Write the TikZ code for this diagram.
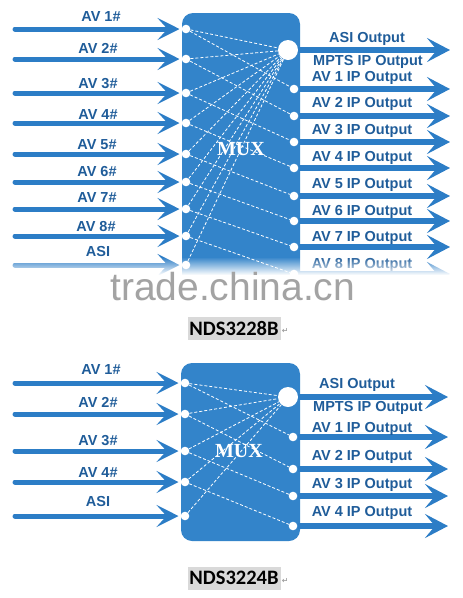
\documentclass[tikz,border=0pt]{standalone}
\usepackage{fontspec}
\usetikzlibrary{positioning, arrows.meta, fadings}
\newfontfamily\labelfont{Liberation Sans}
\newfontfamily\muxfont{Liberation Serif}
\newfontfamily\capfont{Carlito}
\newfontfamily\markfont{DejaVu Sans}
\definecolor{muxblue}{HTML}{3384CA}
\definecolor{arrowblue}{HTML}{2C7DC6}
\definecolor{labelblue}{HTML}{1F5C99}
\definecolor{markgray}{HTML}{A3A3A3}
\tikzfading[name=fade_down, top color=transparent!100, bottom color=transparent!0]

\begin{document}
\begin{tikzpicture}
    [
        x=1pt, y=-1pt,
        mux_box/.style={rectangle, rounded corners=11pt, fill=muxblue, inner sep=0pt},
        in_dot/.style={circle, fill=white, inner sep=0pt, minimum size=8.6pt},
        big_dot/.style={circle, fill=white, inner sep=0pt, minimum size=20pt},
        in_arrow/.style={-{Stealth[length=22pt 0, width=22pt 0, inset=10pt 0]}, line width=5pt, color=arrowblue, line cap=round, shorten >=2pt},
        out_arrow/.style={-{Stealth[length=23pt 0, width=24pt 0, inset=10pt 0]}, line width=6pt, color=arrowblue},
        link_line/.style={white, line width=0.8pt, dash pattern=on 3pt off 2pt},
        io_label/.style={font=\labelfont\bfseries\fontsize{14.5}{16}\selectfont, text=labelblue, inner sep=0pt},
        mux_text/.style={font=\muxfont\bfseries\fontsize{20}{22}\selectfont, text=white, inner sep=0pt},
        cap_box/.style={fill=black!15, font=\capfont\bfseries\fontsize{20.5}{22}\selectfont, minimum width=93pt, minimum height=23pt, inner sep=0pt},
        ret_mark/.style={font=\markfont\fontsize{8}{9}\selectfont, text=black!45, inner sep=0pt},
        mark_text/.style={font=\labelfont\fontsize{39}{42}\selectfont, text=markgray, inner sep=0pt},
    ]
        \useasboundingbox (0,0) rectangle (463,598);

        % NDS3228B
        \node[mux_box, minimum width=118pt, minimum height=272pt] (box1) at (241,149) {};
        \node[mux_text] (mux1) at (241,149) {MUX};

        \node[in_dot] (ti1) at (186,29) {};
        \node[in_dot] (ti2) at (186,59) {};
        \node[in_dot] (ti3) at (186,93) {};
        \node[in_dot] (ti4) at (186,123) {};
        \node[in_dot] (ti5) at (186,154) {};
        \node[in_dot] (ti6) at (186,182) {};
        \node[in_dot] (ti7) at (186,209) {};
        \node[in_dot] (ti8) at (186,236) {};
        \node[in_dot] (ti9) at (186,265) {};
        \node[big_dot] (to0) at (288,50) {};
        \node[in_dot] (to1) at (294,89) {};
        \node[in_dot] (to2) at (294,116) {};
        \node[in_dot] (to3) at (294,142) {};
        \node[in_dot] (to4) at (294,168) {};
        \node[in_dot] (to5) at (294,196) {};
        \node[in_dot] (to6) at (294,221) {};
        \node[in_dot] (to7) at (294,247) {};
        \node[in_dot] (to8) at (294,274) {};

        \draw[link_line] (ti1) -- (to0) ;
        \draw[link_line] (ti2) -- (to0) ;
        \draw[link_line] (ti3) -- (to0) ;
        \draw[link_line] (ti4) -- (to0) ;
        \draw[link_line] (ti5) -- (to0) ;
        \draw[link_line] (ti6) -- (to0) ;
        \draw[link_line] (ti7) -- (to0) ;
        \draw[link_line] (ti8) -- (to0) ;
        \draw[link_line] (ti9) -- (to0) ;
        \draw[link_line] (ti1) -- (to1) ;
        \draw[link_line] (ti2) -- (to2) ;
        \draw[link_line] (ti3) -- (to3) ;
        \draw[link_line] (ti4) -- (to4) ;
        \draw[link_line] (ti5) -- (to5) ;
        \draw[link_line] (ti6) -- (to6) ;
        \draw[link_line] (ti7) -- (to7) ;
        \draw[link_line] (ti8) -- (to8) ;

        \coordinate (ts1) at (15,29);
        \coordinate (ts2) at (15,59);
        \coordinate (ts3) at (15,93);
        \coordinate (ts4) at (15,123);
        \coordinate (ts5) at (15,154);
        \coordinate (ts6) at (15,182);
        \coordinate (ts7) at (15,209);
        \coordinate (ts8) at (15,236);
        \coordinate (ts9) at (15,265);
        \coordinate (te0) at (450,50);
        \coordinate (te1) at (450,89);
        \coordinate (te2) at (450,116);
        \coordinate (te3) at (450,142);
        \coordinate (te4) at (450,168);
        \coordinate (te5) at (450,196);
        \coordinate (te6) at (450,221);
        \coordinate (te7) at (450,247);
        \coordinate (te8) at (450,274);

        \draw[in_arrow] (ts1) -- (ti1) ;
        \draw[in_arrow] (ts2) -- (ti2) ;
        \draw[in_arrow] (ts3) -- (ti3) ;
        \draw[in_arrow] (ts4) -- (ti4) ;
        \draw[in_arrow] (ts5) -- (ti5) ;
        \draw[in_arrow] (ts6) -- (ti6) ;
        \draw[in_arrow] (ts7) -- (ti7) ;
        \draw[in_arrow] (ts8) -- (ti8) ;
        \draw[in_arrow] (ts9) -- (ti9) ;
        \draw[out_arrow] (to0) -- (te0) ;
        \draw[out_arrow] (to1) -- (te1) ;
        \draw[out_arrow] (to2) -- (te2) ;
        \draw[out_arrow] (to3) -- (te3) ;
        \draw[out_arrow] (to4) -- (te4) ;
        \draw[out_arrow] (to5) -- (te5) ;
        \draw[out_arrow] (to6) -- (te6) ;
        \draw[out_arrow] (to7) -- (te7) ;
        \draw[out_arrow] (to8) -- (te8) ;

        \node[io_label] (tl1) at (101,17) {AV 1\#};
        \node[io_label] (tl2) at (98,48) {AV 2\#};
        \node[io_label] (tl3) at (98,84) {AV 3\#};
        \node[io_label] (tl4) at (98,115) {AV 4\#};
        \node[io_label] (tl5) at (97,145) {AV 5\#};
        \node[io_label] (tl6) at (97,172) {AV 6\#};
        \node[io_label] (tl7) at (97,198) {AV 7\#};
        \node[io_label] (tl8) at (96,227) {AV 8\#};
        \node[io_label] (tl9) at (98,252) {ASI};
        \node[io_label] (tr0) at (367,39) {ASI Output};
        \node[io_label] (trm) at (368,62) {MPTS IP Output};
        \node[io_label] (tr1) at (362,78) {AV 1 IP Output};
        \node[io_label] (tr2) at (362,104) {AV 2 IP Output};
        \node[io_label] (tr3) at (362,131) {AV 3 IP Output};
        \node[io_label] (tr4) at (362,158) {AV 4 IP Output};
        \node[io_label] (tr5) at (362,185) {AV 5 IP Output};
        \node[io_label] (tr6) at (362,212) {AV 6 IP Output};
        \node[io_label] (tr7) at (362,238) {AV 7 IP Output};
        \node[io_label] (tr8) at (362,265) {AV 8 IP Output};

        \fill[white, path fading=fade_down] (0,257) rectangle (463,275);
        \fill[white] (0,275) rectangle (463,312);
        \node[mark_text, anchor=base west] (wm) at (110,300) {trade.china.cn};

        \node[cap_box] (cap1) at (234,328) {NDS3228B};
        \node[ret_mark, right=1pt of cap1, yshift=-3pt] (ret1) {↵};

        % NDS3224B
        \node[mux_box, minimum width=119pt, minimum height=178pt] (box2) at (240.5,452) {};
        \node[mux_text] (mux2) at (239,451) {MUX};

        \node[in_dot] (bi1) at (185,383) {};
        \node[in_dot] (bi2) at (185,414) {};
        \node[in_dot] (bi3) at (185,451) {};
        \node[in_dot] (bi4) at (185,482) {};
        \node[in_dot] (bi5) at (185,516) {};
        \node[big_dot] (bo0) at (288,397) {};
        \node[in_dot] (bo1) at (293,437) {};
        \node[in_dot] (bo2) at (293,469) {};
        \node[in_dot] (bo3) at (293,496) {};
        \node[in_dot] (bo4) at (293,526) {};

        \draw[link_line] (bi1) -- (bo0) ;
        \draw[link_line] (bi2) -- (bo0) ;
        \draw[link_line] (bi3) -- (bo0) ;
        \draw[link_line] (bi4) -- (bo0) ;
        \draw[link_line] (bi5) -- (bo0) ;
        \draw[link_line] (bi1) -- (bo1) ;
        \draw[link_line] (bi2) -- (bo2) ;
        \draw[link_line] (bi3) -- (bo3) ;
        \draw[link_line] (bi4) -- (bo4) ;

        \coordinate (bs1) at (15,383);
        \coordinate (bs2) at (15,414);
        \coordinate (bs3) at (15,451);
        \coordinate (bs4) at (15,482);
        \coordinate (bs5) at (15,516);
        \coordinate (be0) at (448,397);
        \coordinate (be1) at (448,437);
        \coordinate (be2) at (448,469);
        \coordinate (be3) at (448,496);
        \coordinate (be4) at (448,526);

        \draw[in_arrow] (bs1) -- (bi1) ;
        \draw[in_arrow] (bs2) -- (bi2) ;
        \draw[in_arrow] (bs3) -- (bi3) ;
        \draw[in_arrow] (bs4) -- (bi4) ;
        \draw[in_arrow] (bs5) -- (bi5) ;
        \draw[out_arrow] (bo0) -- (be0) ;
        \draw[out_arrow] (bo1) -- (be1) ;
        \draw[out_arrow] (bo2) -- (be2) ;
        \draw[out_arrow] (bo3) -- (be3) ;
        \draw[out_arrow] (bo4) -- (be4) ;

        \node[io_label] (bl1) at (101,370) {AV 1\#};
        \node[io_label] (bl2) at (98,402) {AV 2\#};
        \node[io_label] (bl3) at (98,441) {AV 3\#};
        \node[io_label] (bl4) at (98,473) {AV 4\#};
        \node[io_label] (bl5) at (98,502) {ASI};
        \node[io_label] (br0) at (357,385) {ASI Output};
        \node[io_label] (brm) at (368,408) {MPTS IP Output};
        \node[io_label] (br1) at (362,429) {AV 1 IP Output};
        \node[io_label] (br2) at (362,457) {AV 2 IP Output};
        \node[io_label] (br3) at (362,485) {AV 3 IP Output};
        \node[io_label] (br4) at (362,513) {AV 4 IP Output};

        \node[cap_box] (cap2) at (234,578) {NDS3224B};
        \node[ret_mark, right=1pt of cap2, yshift=-3pt] (ret2) {↵};
    \end{tikzpicture}
\end{document}
